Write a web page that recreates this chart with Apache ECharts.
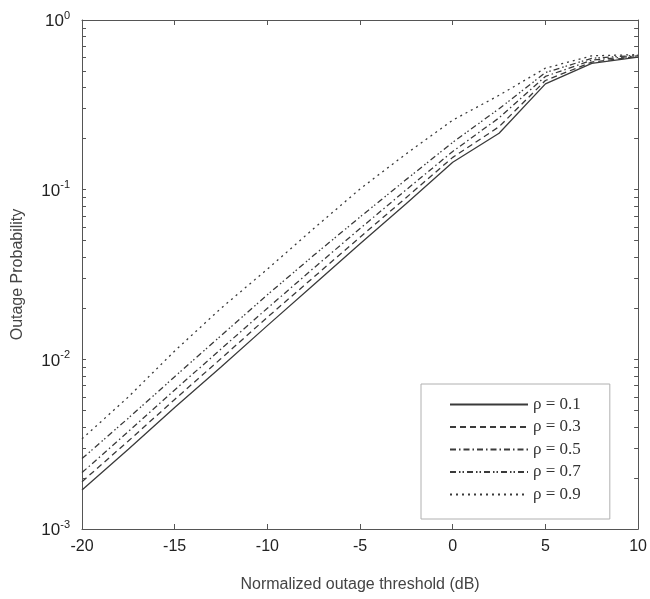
<!DOCTYPE html>
<html>
<head>
<meta charset="utf-8">
<script src="https://cdn.jsdelivr.net/npm/echarts@6/dist/echarts.min.js"></script>
<style>
  html, body { margin: 0; padding: 0; background: #fff; }
  #chart { width: 650px; height: 599px; }
</style>
</head>
<body>
<div id="chart"></div>
<script>
// thresholds in dB
const thresholds = [-20, -17.5, -15, -12.5, -10, -7.5, -5, -2.5, 0, 2.5, 5, 7.5, 10]

const rho01 = [0.0017, 0.00295, 0.0052, 0.009, 0.0158, 0.0275, 0.048, 0.083, 0.145, 0.215, 0.42, 0.555, 0.605]
const rho03 = [0.0019, 0.0033, 0.0058, 0.0101, 0.0177, 0.0305, 0.0525, 0.09, 0.155, 0.235, 0.44, 0.565, 0.61]
const rho05 = [0.00215, 0.00375, 0.0066, 0.0115, 0.02, 0.0345, 0.059, 0.1, 0.168, 0.265, 0.465, 0.58, 0.615]
const rho07 = [0.0026, 0.0045, 0.0079, 0.0138, 0.024, 0.041, 0.069, 0.115, 0.19, 0.3, 0.49, 0.595, 0.62]
const rho09 = [0.0034, 0.006, 0.0112, 0.02, 0.034, 0.059, 0.101, 0.163, 0.257, 0.36, 0.52, 0.615, 0.625]

const seriesNames = ['ρ = 0.1', 'ρ = 0.3', 'ρ = 0.5', 'ρ = 0.7', 'ρ = 0.9']
const seriesValues = [rho01, rho03, rho05, rho07, rho09]
const dashes = ['solid', [6, 4], [6, 3, 1.5, 3], [6, 3, 1.5, 2, 1.5, 3], [2, 4]]

const xTicks = [-20, -15, -10, -5, 0, 5, 10]
const decades = [-3, -2, -1]
const mantissas = [1, 2, 3, 4, 5, 6, 7, 8, 9]

// log-space positions of the 1..9 ticks for each decade, plus the top
const logTicks = []
decades.forEach((d) => {
	mantissas.forEach((m) => {
		logTicks.push(d + Math.log10(m))
	})
})
logTicks.push(0)

const chart = echarts.init(document.getElementById('chart'))

const lineColor = '#3a3a3a'
const axisColor = '#555'

const tickAxis = (position) => ({
	type: 'value',
	position: position,
	min: -3,
	max: 0,
	axisLine: { show: position === 'right', onZero: false, lineStyle: { color: axisColor, width: 1 } },
	axisTick: { show: true, inside: true, length: 4, customValues: logTicks, lineStyle: { color: axisColor } },
	axisLabel: { show: false },
	splitLine: { show: false },
})

const option = {
	animation: false,
	backgroundColor: '#fff',
	grid: { left: 82, right: 8, top: 20, bottom: 70 },
	legend: {
		orient: 'vertical',
		left: 421,
		top: 384,
		itemWidth: 78,
		itemHeight: 14,
		itemGap: 5.5,
		padding: [12, 29, 16, 28],
		borderColor: '#b0b0b0',
		borderWidth: 1,
		backgroundColor: '#fff',
		data: seriesNames,
		itemStyle: { color: 'transparent', borderWidth: 0, opacity: 0 },
		textStyle: { fontFamily: 'Liberation Serif', fontSize: 17, color: '#333' },
	},
	xAxis: [
		{
			type: 'value',
			position: 'bottom',
			min: -20,
			max: 10,
			interval: 5,
			name: 'Normalized outage threshold (dB)',
			nameLocation: 'middle',
			nameGap: 48,
			nameTextStyle: { fontFamily: 'Liberation Sans', fontSize: 16, color: '#444' },
			axisLine: { show: true, onZero: false, lineStyle: { color: axisColor, width: 1 } },
			axisTick: { show: true, inside: true, length: 5, lineStyle: { color: axisColor } },
			axisLabel: {
				margin: 10,
				fontFamily: 'Liberation Sans',
				fontSize: 16,
				color: '#222',
				customValues: xTicks,
			},
			splitLine: { show: false },
		},
		{
			type: 'value',
			position: 'top',
			min: -20,
			max: 10,
			interval: 5,
			axisLine: { show: true, onZero: false, lineStyle: { color: axisColor, width: 1 } },
			axisTick: { show: true, inside: true, length: 5, lineStyle: { color: axisColor } },
			axisLabel: { show: false },
			splitLine: { show: false },
		},
	],
	yAxis: [
		{
			type: 'log',
			logBase: 10,
			position: 'left',
			min: 0.001,
			max: 1,
			name: 'Outage Probability',
			nameLocation: 'middle',
			nameRotate: 90,
			nameGap: 56,
			nameTextStyle: { fontFamily: 'Liberation Sans', fontSize: 16, color: '#444' },
			axisLine: { show: true, onZero: false, lineStyle: { color: axisColor, width: 1 } },
			axisTick: { show: false },
			axisLabel: {
				margin: 12,
				formatter: (v) => '{b|10}{s|' + Math.round(Math.log10(v)) + '}',
				rich: {
					b: { fontFamily: 'Liberation Sans', fontSize: 17, color: '#222', verticalAlign: 'bottom' },
					s: { fontFamily: 'Liberation Sans', fontSize: 11, color: '#222', verticalAlign: 'bottom', padding: [0, 0, 9, 0] },
				},
			},
			splitLine: { show: false },
		},
		tickAxis('left'),
		tickAxis('right'),
	],
	series: seriesNames.map((name, i) => ({
		name: name,
		type: 'line',
		xAxisIndex: 0,
		yAxisIndex: 0,
		symbol: 'none',
		lineStyle: { color: lineColor, width: 1.3, type: dashes[i] },
		itemStyle: { color: lineColor },
		data: thresholds.map((x, j) => [x, seriesValues[i][j]]),
	})),
}

chart.setOption(option)
</script>
</body>
</html>
